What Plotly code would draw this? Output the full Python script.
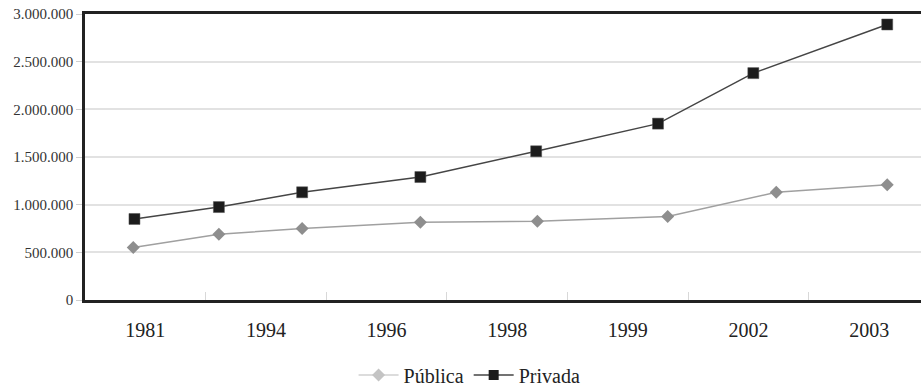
import plotly.graph_objects as go

# Category labels on the x axis (one per band)
years = ["1981", "1994", "1996", "1998", "1999", "2002", "2003"]

# Point positions along the x axis, in category-band units
x_publica = [0.40, 1.11, 1.80, 2.78, 3.75, 4.83, 5.73, 6.65]
x_privada = [0.41, 1.11, 1.80, 2.78, 3.74, 4.75, 5.54, 6.65]

# Series values
publica = [550000, 690000, 750000, 815000, 825000, 875000, 1130000, 1210000]
privada = [850000, 975000, 1130000, 1290000, 1560000, 1850000, 2380000, 2890000]

y_ticks = [0, 500000, 1000000, 1500000, 2000000, 2500000, 3000000]
y_tick_text = ["0", "500.000", "1.000.000", "1.500.000", "2.000.000", "2.500.000", "3.000.000"]

label_pos = [i + 0.5 for i in range(len(years))]
band_edges = list(range(1, len(years) + 1))

FONT = "Liberation Serif"

fig = go.Figure()
fig.add_trace(go.Scatter(
    x=x_publica, y=publica, mode="lines+markers", name="Pública",
    line=dict(color="#a0a0a0", width=1.5),
    marker=dict(symbol="diamond", size=10, color="#8e8e8e"),
    showlegend=False,
))
fig.add_trace(go.Scatter(
    x=x_privada, y=privada, mode="lines+markers", name="Privada",
    line=dict(color="#454545", width=1.5),
    marker=dict(symbol="square", size=11, color="#1c1c1c",
                line=dict(color="#555", width=0.5)),
    showlegend=False,
))
# legend entries
fig.add_trace(go.Scatter(
    x=[None], y=[None], mode="lines+markers", name="Pública",
    line=dict(color="#d0d0d0", width=1.5),
    marker=dict(symbol="diamond", size=10, color="#c4c4c4"),
))
fig.add_trace(go.Scatter(
    x=[None], y=[None], mode="lines+markers", name="Privada",
    line=dict(color="#454545", width=1.5),
    marker=dict(symbol="square", size=10, color="#1c1c1c"),
))

fig.update_layout(
    width=921, height=386,
    margin=dict(l=85, r=0, t=14, b=86, autoexpand=False),
    paper_bgcolor="white", plot_bgcolor="white",
    font=dict(family=FONT, color="#222"),
    legend=dict(orientation="h", x=0.46, xanchor="center", y=-0.262, yanchor="middle",
                font=dict(size=20, family=FONT, color="#222"),
                itemwidth=40, tracegroupgap=0),
    xaxis=dict(
        range=[0, 6.93], showgrid=False, zeroline=False,
        tickmode="array", tickvals=label_pos, ticktext=years,
        ticks="", tickfont=dict(size=20, family=FONT, color="#222"),
        ticklabelstandoff=10,
        showline=True, linecolor="#222", linewidth=2.5, mirror=True,
        minor=dict(tickmode="array", tickvals=band_edges, ticks="inside",
                   ticklen=8, tickcolor="#d8d8d8", tickwidth=1, showgrid=False),
    ),
    yaxis=dict(
        range=[0, 3000000], tickmode="array", tickvals=y_ticks, ticktext=y_tick_text,
        showgrid=True, gridcolor="#e2e2e2", gridwidth=1.5, zeroline=False,
        ticks="outside", ticklen=6, tickcolor="#cfcfcf",
        tickfont=dict(size=15, family=FONT, color="#333"),
        showline=True, linecolor="#222", linewidth=2.5,
    ),
)

fig.write_html("out.html")
